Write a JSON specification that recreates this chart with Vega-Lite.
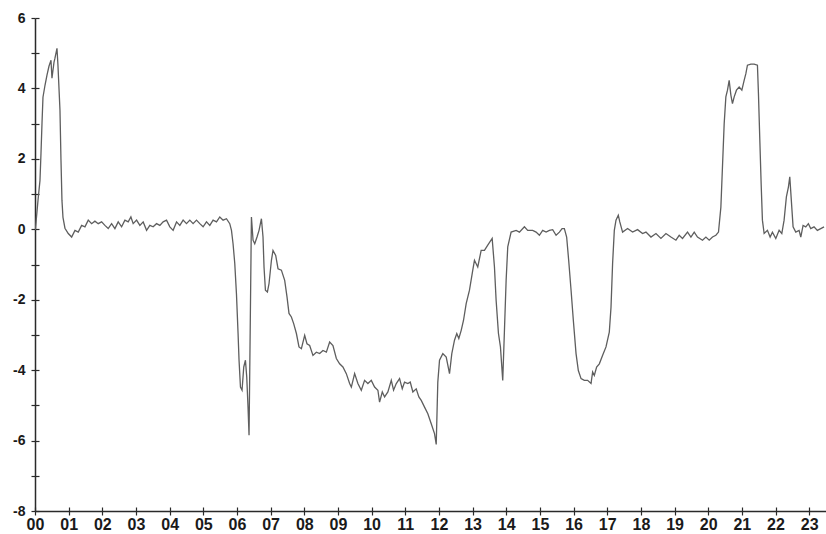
{
  "$schema": "https://vega.github.io/schema/vega-lite/v6.json",
  "width": 791,
  "height": 493,
  "autosize": {"type": "none"},
  "padding": {"left": 35, "top": 18, "right": 0, "bottom": 23},
  "background": "white",
  "config": {
    "view": {"stroke": null},
    "axis": {
      "domainColor": "#2a2a2a",
      "domainWidth": 1.5,
      "tickColor": "#2a2a2a",
      "tickWidth": 1.2,
      "tickSize": 4,
      "grid": false,
      "title": null,
      "labelFont": "Liberation Sans",
      "labelFontWeight": "bold",
      "labelColor": "#1a1a1a"
    }
  },
  "data": {
    "values": [
      {"year": 0.01, "value": -0.02}, {"year": 0.089, "value": 0.82}, {"year": 0.148, "value": 1.39}, {"year": 0.178, "value": 2.16},
      {"year": 0.208, "value": 3.01}, {"year": 0.237, "value": 3.75}, {"year": 0.297, "value": 4.09}, {"year": 0.356, "value": 4.38},
      {"year": 0.415, "value": 4.63}, {"year": 0.475, "value": 4.8}, {"year": 0.504, "value": 4.29}, {"year": 0.564, "value": 4.74},
      {"year": 0.593, "value": 4.86}, {"year": 0.653, "value": 5.14}, {"year": 0.682, "value": 4.66}, {"year": 0.742, "value": 3.38},
      {"year": 0.772, "value": 1.96}, {"year": 0.801, "value": 0.82}, {"year": 0.831, "value": 0.34}, {"year": 0.89, "value": 0.03},
      {"year": 0.988, "value": -0.12}, {"year": 1.089, "value": -0.22}, {"year": 1.187, "value": -0.03}, {"year": 1.285, "value": -0.08},
      {"year": 1.386, "value": 0.11}, {"year": 1.484, "value": 0.07}, {"year": 1.582, "value": 0.26}, {"year": 1.682, "value": 0.16},
      {"year": 1.78, "value": 0.23}, {"year": 1.878, "value": 0.16}, {"year": 1.979, "value": 0.21}, {"year": 2.077, "value": 0.11},
      {"year": 2.175, "value": 0.02}, {"year": 2.276, "value": 0.16}, {"year": 2.374, "value": 0.02}, {"year": 2.472, "value": 0.21},
      {"year": 2.573, "value": 0.07}, {"year": 2.671, "value": 0.26}, {"year": 2.769, "value": 0.21}, {"year": 2.849, "value": 0.35},
      {"year": 2.917, "value": 0.16}, {"year": 3.018, "value": 0.26}, {"year": 3.116, "value": 0.11}, {"year": 3.214, "value": 0.21},
      {"year": 3.315, "value": -0.03}, {"year": 3.412, "value": 0.11}, {"year": 3.51, "value": 0.07}, {"year": 3.611, "value": 0.16},
      {"year": 3.709, "value": 0.11}, {"year": 3.807, "value": 0.21}, {"year": 3.908, "value": 0.26}, {"year": 4.006, "value": 0.07},
      {"year": 4.104, "value": -0.03}, {"year": 4.205, "value": 0.21}, {"year": 4.303, "value": 0.11}, {"year": 4.401, "value": 0.26},
      {"year": 4.501, "value": 0.16}, {"year": 4.599, "value": 0.26}, {"year": 4.697, "value": 0.16}, {"year": 4.798, "value": 0.26},
      {"year": 4.896, "value": 0.16}, {"year": 4.994, "value": 0.07}, {"year": 5.095, "value": 0.21}, {"year": 5.193, "value": 0.11},
      {"year": 5.291, "value": 0.26}, {"year": 5.392, "value": 0.21}, {"year": 5.49, "value": 0.35}, {"year": 5.588, "value": 0.26},
      {"year": 5.688, "value": 0.3}, {"year": 5.786, "value": 0.16}, {"year": 5.837, "value": -0.03}, {"year": 5.884, "value": -0.41},
      {"year": 5.935, "value": -0.97}, {"year": 5.985, "value": -1.83}, {"year": 6.033, "value": -2.96}, {"year": 6.062, "value": -3.72},
      {"year": 6.104, "value": -4.48}, {"year": 6.151, "value": -4.57}, {"year": 6.202, "value": -3.91}, {"year": 6.252, "value": -3.72},
      {"year": 6.291, "value": -4.2}, {"year": 6.329, "value": -5.05}, {"year": 6.359, "value": -5.85}, {"year": 6.43, "value": 0.35},
      {"year": 6.478, "value": -0.31}, {"year": 6.528, "value": -0.41}, {"year": 6.596, "value": -0.22}, {"year": 6.656, "value": -0.03},
      {"year": 6.727, "value": 0.3}, {"year": 6.774, "value": -0.22}, {"year": 6.804, "value": -1.07}, {"year": 6.846, "value": -1.73},
      {"year": 6.905, "value": -1.78}, {"year": 6.953, "value": -1.54}, {"year": 7.024, "value": -0.88}, {"year": 7.071, "value": -0.6},
      {"year": 7.151, "value": -0.74}, {"year": 7.22, "value": -1.12}, {"year": 7.32, "value": -1.16}, {"year": 7.418, "value": -1.45},
      {"year": 7.487, "value": -1.92}, {"year": 7.546, "value": -2.39}, {"year": 7.617, "value": -2.49}, {"year": 7.685, "value": -2.68},
      {"year": 7.766, "value": -2.96}, {"year": 7.843, "value": -3.34}, {"year": 7.914, "value": -3.39}, {"year": 8.012, "value": -3.01},
      {"year": 8.08, "value": -3.25}, {"year": 8.16, "value": -3.3}, {"year": 8.258, "value": -3.58}, {"year": 8.359, "value": -3.49},
      {"year": 8.457, "value": -3.53}, {"year": 8.555, "value": -3.44}, {"year": 8.656, "value": -3.49}, {"year": 8.754, "value": -3.2},
      {"year": 8.852, "value": -3.3}, {"year": 8.953, "value": -3.67}, {"year": 9.05, "value": -3.82}, {"year": 9.148, "value": -3.91},
      {"year": 9.249, "value": -4.1}, {"year": 9.347, "value": -4.38}, {"year": 9.398, "value": -4.48}, {"year": 9.496, "value": -4.1},
      {"year": 9.593, "value": -4.38}, {"year": 9.694, "value": -4.57}, {"year": 9.792, "value": -4.29}, {"year": 9.89, "value": -4.38},
      {"year": 9.991, "value": -4.29}, {"year": 10.089, "value": -4.48}, {"year": 10.187, "value": -4.57}, {"year": 10.237, "value": -4.91},
      {"year": 10.318, "value": -4.62}, {"year": 10.386, "value": -4.76}, {"year": 10.484, "value": -4.62}, {"year": 10.585, "value": -4.29},
      {"year": 10.653, "value": -4.57}, {"year": 10.733, "value": -4.38}, {"year": 10.831, "value": -4.24}, {"year": 10.911, "value": -4.53},
      {"year": 10.979, "value": -4.34}, {"year": 11.077, "value": -4.38}, {"year": 11.148, "value": -4.34}, {"year": 11.226, "value": -4.62},
      {"year": 11.326, "value": -4.53}, {"year": 11.404, "value": -4.76}, {"year": 11.475, "value": -4.86}, {"year": 11.573, "value": -5.05},
      {"year": 11.671, "value": -5.24}, {"year": 11.772, "value": -5.52}, {"year": 11.869, "value": -5.8}, {"year": 11.92, "value": -6.11},
      {"year": 11.967, "value": -4.34}, {"year": 12.018, "value": -3.72}, {"year": 12.116, "value": -3.53}, {"year": 12.217, "value": -3.63},
      {"year": 12.315, "value": -4.1}, {"year": 12.383, "value": -3.53}, {"year": 12.463, "value": -3.15}, {"year": 12.531, "value": -2.96},
      {"year": 12.591, "value": -3.1}, {"year": 12.662, "value": -2.87}, {"year": 12.73, "value": -2.59}, {"year": 12.81, "value": -2.11},
      {"year": 12.908, "value": -1.73}, {"year": 13.006, "value": -1.16}, {"year": 13.056, "value": -0.88}, {"year": 13.154, "value": -1.07},
      {"year": 13.255, "value": -0.6}, {"year": 13.353, "value": -0.6}, {"year": 13.451, "value": -0.45}, {"year": 13.582, "value": -0.26},
      {"year": 13.65, "value": -1.07}, {"year": 13.7, "value": -2.02}, {"year": 13.769, "value": -2.96}, {"year": 13.828, "value": -3.34},
      {"year": 13.896, "value": -4.29}, {"year": 13.947, "value": -2.87}, {"year": 13.997, "value": -1.45}, {"year": 14.045, "value": -0.5},
      {"year": 14.145, "value": -0.08}, {"year": 14.294, "value": -0.03}, {"year": 14.392, "value": -0.08}, {"year": 14.54, "value": 0.07},
      {"year": 14.638, "value": -0.03}, {"year": 14.786, "value": -0.03}, {"year": 14.887, "value": -0.08}, {"year": 14.985, "value": -0.17},
      {"year": 15.083, "value": -0.03}, {"year": 15.184, "value": -0.08}, {"year": 15.282, "value": -0.03}, {"year": 15.38, "value": -0.01},
      {"year": 15.481, "value": -0.17}, {"year": 15.579, "value": -0.08}, {"year": 15.659, "value": 0.02}, {"year": 15.727, "value": 0.02},
      {"year": 15.795, "value": -0.22}, {"year": 15.855, "value": -0.88}, {"year": 15.926, "value": -1.73}, {"year": 15.994, "value": -2.59},
      {"year": 16.074, "value": -3.53}, {"year": 16.142, "value": -4.01}, {"year": 16.223, "value": -4.24}, {"year": 16.32, "value": -4.29},
      {"year": 16.418, "value": -4.29}, {"year": 16.519, "value": -4.38}, {"year": 16.567, "value": -4.05}, {"year": 16.617, "value": -4.15},
      {"year": 16.685, "value": -3.91}, {"year": 16.766, "value": -3.82}, {"year": 16.864, "value": -3.58}, {"year": 16.964, "value": -3.34},
      {"year": 17.062, "value": -2.92}, {"year": 17.113, "value": -2.21}, {"year": 17.16, "value": -0.97}, {"year": 17.211, "value": -0.03},
      {"year": 17.261, "value": 0.26}, {"year": 17.329, "value": 0.4}, {"year": 17.374, "value": 0.21}, {"year": 17.457, "value": -0.08},
      {"year": 17.605, "value": 0.02}, {"year": 17.754, "value": -0.08}, {"year": 17.902, "value": -0.01}, {"year": 18.05, "value": -0.12},
      {"year": 18.151, "value": -0.08}, {"year": 18.3, "value": -0.22}, {"year": 18.448, "value": -0.12}, {"year": 18.596, "value": -0.26},
      {"year": 18.745, "value": -0.12}, {"year": 18.893, "value": -0.22}, {"year": 19.041, "value": -0.31}, {"year": 19.139, "value": -0.17},
      {"year": 19.237, "value": -0.26}, {"year": 19.386, "value": -0.08}, {"year": 19.487, "value": -0.22}, {"year": 19.585, "value": -0.08},
      {"year": 19.682, "value": -0.22}, {"year": 19.831, "value": -0.31}, {"year": 19.932, "value": -0.22}, {"year": 20.03, "value": -0.31},
      {"year": 20.128, "value": -0.22}, {"year": 20.228, "value": -0.17}, {"year": 20.306, "value": -0.08}, {"year": 20.377, "value": 0.63},
      {"year": 20.424, "value": 1.77}, {"year": 20.475, "value": 3.0}, {"year": 20.525, "value": 3.76}, {"year": 20.573, "value": 3.95},
      {"year": 20.623, "value": 4.23}, {"year": 20.674, "value": 3.81}, {"year": 20.721, "value": 3.57}, {"year": 20.772, "value": 3.76},
      {"year": 20.84, "value": 3.95}, {"year": 20.92, "value": 4.04}, {"year": 21.0, "value": 3.95}, {"year": 21.068, "value": 4.23},
      {"year": 21.119, "value": 4.42}, {"year": 21.166, "value": 4.66}, {"year": 21.267, "value": 4.69}, {"year": 21.365, "value": 4.69},
      {"year": 21.463, "value": 4.66}, {"year": 21.493, "value": 3.86}, {"year": 21.534, "value": 2.53}, {"year": 21.573, "value": 1.3},
      {"year": 21.611, "value": 0.26}, {"year": 21.662, "value": -0.12}, {"year": 21.76, "value": -0.03}, {"year": 21.84, "value": -0.22},
      {"year": 21.908, "value": -0.08}, {"year": 22.009, "value": -0.26}, {"year": 22.107, "value": -0.03}, {"year": 22.187, "value": -0.12},
      {"year": 22.255, "value": 0.26}, {"year": 22.323, "value": 0.92}, {"year": 22.383, "value": 1.2}, {"year": 22.424, "value": 1.49},
      {"year": 22.463, "value": 0.92}, {"year": 22.522, "value": 0.07}, {"year": 22.602, "value": -0.08}, {"year": 22.7, "value": -0.03},
      {"year": 22.751, "value": -0.22}, {"year": 22.819, "value": 0.11}, {"year": 22.899, "value": 0.07}, {"year": 22.976, "value": 0.16},
      {"year": 23.047, "value": 0.02}, {"year": 23.145, "value": 0.07}, {"year": 23.243, "value": -0.03}, {"year": 23.344, "value": 0.02},
      {"year": 23.442, "value": 0.07}
    ]
  },
  "layer": [
    {
      "mark": {"type": "line", "color": "#5e5e5e", "strokeWidth": 1.3, "clip": true},
      "encoding": {
        "x": {
          "field": "year", "type": "quantitative",
          "scale": {"domain": [0, 23.5], "nice": false, "zero": false},
          "axis": {
            "orient": "bottom",
            "values": [0, 1, 2, 3, 4, 5, 6, 7, 8, 9, 10, 11, 12, 13, 14, 15, 16, 17, 18, 19, 20, 21, 22, 23],
            "labelExpr": "datum.value < 10 ? '0' + datum.value : '' + datum.value",
            "labelFontSize": 16,
            "labelPadding": 1,
            "labelFlush": false,
            "labelOverlap": false
          }
        },
        "y": {
          "field": "value", "type": "quantitative",
          "scale": {"domain": [-8, 6], "nice": false, "zero": false},
          "axis": {
            "orient": "left",
            "values": [-8, -7, -6, -5, -4, -3, -2, -1, 0, 1, 2, 3, 4, 5, 6],
            "labelExpr": "datum.value % 2 == 0 ? '' + datum.value : ''",
            "labelFontSize": 14,
            "labelPadding": 6,
            "labelFlush": false,
            "labelOverlap": false
          }
        }
      }
    },
    {
      "mark": {"type": "line", "strokeOpacity": 0},
      "encoding": {
        "x": {
          "field": "year", "type": "quantitative",
          "scale": {"domain": [0, 23.5], "nice": false, "zero": false},
          "axis": {
            "orient": "bottom", "offset": -4, "domain": false, "labels": false,
            "values": [0, 1, 2, 3, 4, 5, 6, 7, 8, 9, 10, 11, 12, 13, 14, 15, 16, 17, 18, 19, 20, 21, 22, 23]
          }
        },
        "y": {
          "field": "value", "type": "quantitative",
          "scale": {"domain": [-8, 6], "nice": false, "zero": false},
          "axis": {
            "orient": "left", "offset": -4, "domain": false, "labels": false,
            "values": [-8, -7, -6, -5, -4, -3, -2, -1, 0, 1, 2, 3, 4, 5, 6]
          }
        }
      }
    }
  ],
  "resolve": {"axis": {"x": "independent", "y": "independent"}}
}
